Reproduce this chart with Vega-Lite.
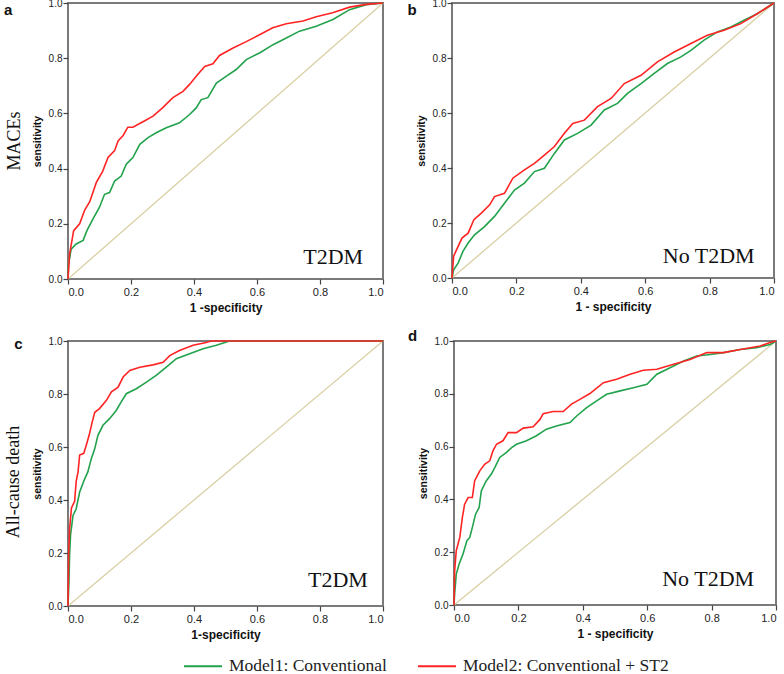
{
  "$schema": "https://vega.github.io/schema/vega-lite/v6.json",
  "padding": {"left": 2, "top": -3, "right": 0, "bottom": 0},
  "background": "white",
  "config": {
    "view": {"stroke": "#7a7a7a", "strokeWidth": 2},
    "axis": {"grid": false, "domain": false, "tickColor": "#444", "tickSize": 5, "tickWidth": 1.2, "labelFont": "Liberation Sans", "labelColor": "#222", "titleFont": "Liberation Sans", "titleFontWeight": "bold", "titleColor": "#111", "format": ".1f", "tickCount": 5},
    "axisX": {"labelFontSize": 11, "labelPadding": 2, "titleFontSize": 12, "titlePadding": 5},
    "axisY": {"labelFontSize": 10, "labelPadding": 1, "titleFontSize": 10.5, "titlePadding": 6},
    "legend": {"orient": "none", "legendX": 115, "legendY": 643, "direction": "horizontal", "symbolType": "stroke", "symbolSize": 1444, "symbolStrokeWidth": 2, "labelFont": "Liberation Serif", "labelFontSize": 17.5, "labelColor": "#222", "labelOffset": 6, "columnPadding": 27, "labelLimit": 400}
  },
  "datasets": {
    "a": [
      {"m": "Model1: Conventional", "x": 0, "y": 0}, {"m": "Model1: Conventional", "x": 0.002, "y": 0.054}, {"m": "Model1: Conventional", "x": 0.01, "y": 0.108}, {"m": "Model1: Conventional", "x": 0.026, "y": 0.127}, {"m": "Model1: Conventional", "x": 0.048, "y": 0.14}, {"m": "Model1: Conventional", "x": 0.06, "y": 0.175}, {"m": "Model1: Conventional", "x": 0.079, "y": 0.217}, {"m": "Model1: Conventional", "x": 0.1, "y": 0.26}, {"m": "Model1: Conventional", "x": 0.116, "y": 0.307}, {"m": "Model1: Conventional", "x": 0.132, "y": 0.313}, {"m": "Model1: Conventional", "x": 0.148, "y": 0.355}, {"m": "Model1: Conventional", "x": 0.169, "y": 0.373}, {"m": "Model1: Conventional", "x": 0.185, "y": 0.416}, {"m": "Model1: Conventional", "x": 0.206, "y": 0.44}, {"m": "Model1: Conventional", "x": 0.228, "y": 0.488}, {"m": "Model1: Conventional", "x": 0.254, "y": 0.512}, {"m": "Model1: Conventional", "x": 0.28, "y": 0.53}, {"m": "Model1: Conventional", "x": 0.312, "y": 0.548}, {"m": "Model1: Conventional", "x": 0.354, "y": 0.566}, {"m": "Model1: Conventional", "x": 0.386, "y": 0.596}, {"m": "Model1: Conventional", "x": 0.407, "y": 0.62}, {"m": "Model1: Conventional", "x": 0.423, "y": 0.65}, {"m": "Model1: Conventional", "x": 0.444, "y": 0.657}, {"m": "Model1: Conventional", "x": 0.471, "y": 0.71}, {"m": "Model1: Conventional", "x": 0.503, "y": 0.735}, {"m": "Model1: Conventional", "x": 0.534, "y": 0.759}, {"m": "Model1: Conventional", "x": 0.566, "y": 0.795}, {"m": "Model1: Conventional", "x": 0.608, "y": 0.819}, {"m": "Model1: Conventional", "x": 0.651, "y": 0.849}, {"m": "Model1: Conventional", "x": 0.693, "y": 0.873}, {"m": "Model1: Conventional", "x": 0.735, "y": 0.898}, {"m": "Model1: Conventional", "x": 0.788, "y": 0.916}, {"m": "Model1: Conventional", "x": 0.841, "y": 0.94}, {"m": "Model1: Conventional", "x": 0.894, "y": 0.976}, {"m": "Model1: Conventional", "x": 0.947, "y": 0.994}, {"m": "Model1: Conventional", "x": 1, "y": 1},
      {"m": "Model2: Conventional + ST2", "x": 0, "y": 0}, {"m": "Model2: Conventional + ST2", "x": 0.005, "y": 0.09}, {"m": "Model2: Conventional + ST2", "x": 0.018, "y": 0.175}, {"m": "Model2: Conventional + ST2", "x": 0.037, "y": 0.2}, {"m": "Model2: Conventional + ST2", "x": 0.053, "y": 0.25}, {"m": "Model2: Conventional + ST2", "x": 0.069, "y": 0.28}, {"m": "Model2: Conventional + ST2", "x": 0.09, "y": 0.35}, {"m": "Model2: Conventional + ST2", "x": 0.11, "y": 0.39}, {"m": "Model2: Conventional + ST2", "x": 0.127, "y": 0.44}, {"m": "Model2: Conventional + ST2", "x": 0.148, "y": 0.465}, {"m": "Model2: Conventional + ST2", "x": 0.159, "y": 0.5}, {"m": "Model2: Conventional + ST2", "x": 0.175, "y": 0.52}, {"m": "Model2: Conventional + ST2", "x": 0.19, "y": 0.55}, {"m": "Model2: Conventional + ST2", "x": 0.206, "y": 0.55}, {"m": "Model2: Conventional + ST2", "x": 0.238, "y": 0.57}, {"m": "Model2: Conventional + ST2", "x": 0.27, "y": 0.59}, {"m": "Model2: Conventional + ST2", "x": 0.3, "y": 0.62}, {"m": "Model2: Conventional + ST2", "x": 0.333, "y": 0.657}, {"m": "Model2: Conventional + ST2", "x": 0.365, "y": 0.68}, {"m": "Model2: Conventional + ST2", "x": 0.386, "y": 0.705}, {"m": "Model2: Conventional + ST2", "x": 0.407, "y": 0.735}, {"m": "Model2: Conventional + ST2", "x": 0.434, "y": 0.77}, {"m": "Model2: Conventional + ST2", "x": 0.46, "y": 0.78}, {"m": "Model2: Conventional + ST2", "x": 0.481, "y": 0.81}, {"m": "Model2: Conventional + ST2", "x": 0.524, "y": 0.837}, {"m": "Model2: Conventional + ST2", "x": 0.566, "y": 0.86}, {"m": "Model2: Conventional + ST2", "x": 0.608, "y": 0.885}, {"m": "Model2: Conventional + ST2", "x": 0.65, "y": 0.91}, {"m": "Model2: Conventional + ST2", "x": 0.693, "y": 0.925}, {"m": "Model2: Conventional + ST2", "x": 0.746, "y": 0.935}, {"m": "Model2: Conventional + ST2", "x": 0.788, "y": 0.95}, {"m": "Model2: Conventional + ST2", "x": 0.84, "y": 0.965}, {"m": "Model2: Conventional + ST2", "x": 0.894, "y": 0.985}, {"m": "Model2: Conventional + ST2", "x": 0.947, "y": 0.995}, {"m": "Model2: Conventional + ST2", "x": 1, "y": 1}
    ],
    "b": [
      {"m": "Model1: Conventional", "x": 0, "y": 0}, {"m": "Model1: Conventional", "x": 0.005, "y": 0.03}, {"m": "Model1: Conventional", "x": 0.019, "y": 0.054}, {"m": "Model1: Conventional", "x": 0.034, "y": 0.097}, {"m": "Model1: Conventional", "x": 0.05, "y": 0.127}, {"m": "Model1: Conventional", "x": 0.07, "y": 0.157}, {"m": "Model1: Conventional", "x": 0.101, "y": 0.187}, {"m": "Model1: Conventional", "x": 0.132, "y": 0.224}, {"m": "Model1: Conventional", "x": 0.163, "y": 0.272}, {"m": "Model1: Conventional", "x": 0.194, "y": 0.32}, {"m": "Model1: Conventional", "x": 0.225, "y": 0.345}, {"m": "Model1: Conventional", "x": 0.256, "y": 0.387}, {"m": "Model1: Conventional", "x": 0.287, "y": 0.399}, {"m": "Model1: Conventional", "x": 0.318, "y": 0.453}, {"m": "Model1: Conventional", "x": 0.349, "y": 0.502}, {"m": "Model1: Conventional", "x": 0.39, "y": 0.526}, {"m": "Model1: Conventional", "x": 0.432, "y": 0.556}, {"m": "Model1: Conventional", "x": 0.473, "y": 0.611}, {"m": "Model1: Conventional", "x": 0.514, "y": 0.635}, {"m": "Model1: Conventional", "x": 0.545, "y": 0.671}, {"m": "Model1: Conventional", "x": 0.587, "y": 0.707}, {"m": "Model1: Conventional", "x": 0.628, "y": 0.744}, {"m": "Model1: Conventional", "x": 0.669, "y": 0.78}, {"m": "Model1: Conventional", "x": 0.711, "y": 0.804}, {"m": "Model1: Conventional", "x": 0.742, "y": 0.828}, {"m": "Model1: Conventional", "x": 0.783, "y": 0.865}, {"m": "Model1: Conventional", "x": 0.824, "y": 0.895}, {"m": "Model1: Conventional", "x": 0.866, "y": 0.913}, {"m": "Model1: Conventional", "x": 0.907, "y": 0.937}, {"m": "Model1: Conventional", "x": 0.948, "y": 0.961}, {"m": "Model1: Conventional", "x": 1, "y": 1},
      {"m": "Model2: Conventional + ST2", "x": 0, "y": 0}, {"m": "Model2: Conventional + ST2", "x": 0.005, "y": 0.079}, {"m": "Model2: Conventional + ST2", "x": 0.019, "y": 0.115}, {"m": "Model2: Conventional + ST2", "x": 0.031, "y": 0.145}, {"m": "Model2: Conventional + ST2", "x": 0.05, "y": 0.163}, {"m": "Model2: Conventional + ST2", "x": 0.068, "y": 0.212}, {"m": "Model2: Conventional + ST2", "x": 0.091, "y": 0.236}, {"m": "Model2: Conventional + ST2", "x": 0.117, "y": 0.266}, {"m": "Model2: Conventional + ST2", "x": 0.132, "y": 0.296}, {"m": "Model2: Conventional + ST2", "x": 0.163, "y": 0.308}, {"m": "Model2: Conventional + ST2", "x": 0.189, "y": 0.363}, {"m": "Model2: Conventional + ST2", "x": 0.225, "y": 0.393}, {"m": "Model2: Conventional + ST2", "x": 0.256, "y": 0.417}, {"m": "Model2: Conventional + ST2", "x": 0.287, "y": 0.447}, {"m": "Model2: Conventional + ST2", "x": 0.318, "y": 0.478}, {"m": "Model2: Conventional + ST2", "x": 0.349, "y": 0.526}, {"m": "Model2: Conventional + ST2", "x": 0.375, "y": 0.562}, {"m": "Model2: Conventional + ST2", "x": 0.411, "y": 0.574}, {"m": "Model2: Conventional + ST2", "x": 0.452, "y": 0.623}, {"m": "Model2: Conventional + ST2", "x": 0.494, "y": 0.653}, {"m": "Model2: Conventional + ST2", "x": 0.535, "y": 0.707}, {"m": "Model2: Conventional + ST2", "x": 0.587, "y": 0.737}, {"m": "Model2: Conventional + ST2", "x": 0.638, "y": 0.786}, {"m": "Model2: Conventional + ST2", "x": 0.69, "y": 0.822}, {"m": "Model2: Conventional + ST2", "x": 0.742, "y": 0.853}, {"m": "Model2: Conventional + ST2", "x": 0.793, "y": 0.883}, {"m": "Model2: Conventional + ST2", "x": 0.845, "y": 0.901}, {"m": "Model2: Conventional + ST2", "x": 0.897, "y": 0.925}, {"m": "Model2: Conventional + ST2", "x": 0.948, "y": 0.961}, {"m": "Model2: Conventional + ST2", "x": 1, "y": 1}
    ],
    "c": [
      {"m": "Model1: Conventional", "x": 0, "y": 0}, {"m": "Model1: Conventional", "x": 0.003, "y": 0.09}, {"m": "Model1: Conventional", "x": 0.005, "y": 0.19}, {"m": "Model1: Conventional", "x": 0.008, "y": 0.267}, {"m": "Model1: Conventional", "x": 0.016, "y": 0.342}, {"m": "Model1: Conventional", "x": 0.026, "y": 0.367}, {"m": "Model1: Conventional", "x": 0.037, "y": 0.43}, {"m": "Model1: Conventional", "x": 0.053, "y": 0.48}, {"m": "Model1: Conventional", "x": 0.063, "y": 0.506}, {"m": "Model1: Conventional", "x": 0.074, "y": 0.556}, {"m": "Model1: Conventional", "x": 0.085, "y": 0.594}, {"m": "Model1: Conventional", "x": 0.095, "y": 0.644}, {"m": "Model1: Conventional", "x": 0.111, "y": 0.682}, {"m": "Model1: Conventional", "x": 0.132, "y": 0.707}, {"m": "Model1: Conventional", "x": 0.153, "y": 0.738}, {"m": "Model1: Conventional", "x": 0.169, "y": 0.77}, {"m": "Model1: Conventional", "x": 0.185, "y": 0.801}, {"m": "Model1: Conventional", "x": 0.217, "y": 0.82}, {"m": "Model1: Conventional", "x": 0.249, "y": 0.845}, {"m": "Model1: Conventional", "x": 0.28, "y": 0.87}, {"m": "Model1: Conventional", "x": 0.312, "y": 0.901}, {"m": "Model1: Conventional", "x": 0.344, "y": 0.933}, {"m": "Model1: Conventional", "x": 0.386, "y": 0.952}, {"m": "Model1: Conventional", "x": 0.429, "y": 0.971}, {"m": "Model1: Conventional", "x": 0.471, "y": 0.984}, {"m": "Model1: Conventional", "x": 0.513, "y": 1}, {"m": "Model1: Conventional", "x": 1, "y": 1},
      {"m": "Model2: Conventional + ST2", "x": 0, "y": 0}, {"m": "Model2: Conventional + ST2", "x": 0.002, "y": 0.19}, {"m": "Model2: Conventional + ST2", "x": 0.005, "y": 0.29}, {"m": "Model2: Conventional + ST2", "x": 0.011, "y": 0.37}, {"m": "Model2: Conventional + ST2", "x": 0.021, "y": 0.395}, {"m": "Model2: Conventional + ST2", "x": 0.026, "y": 0.47}, {"m": "Model2: Conventional + ST2", "x": 0.032, "y": 0.507}, {"m": "Model2: Conventional + ST2", "x": 0.037, "y": 0.57}, {"m": "Model2: Conventional + ST2", "x": 0.05, "y": 0.576}, {"m": "Model2: Conventional + ST2", "x": 0.058, "y": 0.607}, {"m": "Model2: Conventional + ST2", "x": 0.067, "y": 0.644}, {"m": "Model2: Conventional + ST2", "x": 0.077, "y": 0.695}, {"m": "Model2: Conventional + ST2", "x": 0.085, "y": 0.731}, {"m": "Model2: Conventional + ST2", "x": 0.1, "y": 0.745}, {"m": "Model2: Conventional + ST2", "x": 0.122, "y": 0.776}, {"m": "Model2: Conventional + ST2", "x": 0.138, "y": 0.808}, {"m": "Model2: Conventional + ST2", "x": 0.159, "y": 0.826}, {"m": "Model2: Conventional + ST2", "x": 0.175, "y": 0.864}, {"m": "Model2: Conventional + ST2", "x": 0.196, "y": 0.889}, {"m": "Model2: Conventional + ST2", "x": 0.228, "y": 0.901}, {"m": "Model2: Conventional + ST2", "x": 0.27, "y": 0.91}, {"m": "Model2: Conventional + ST2", "x": 0.302, "y": 0.92}, {"m": "Model2: Conventional + ST2", "x": 0.323, "y": 0.945}, {"m": "Model2: Conventional + ST2", "x": 0.354, "y": 0.964}, {"m": "Model2: Conventional + ST2", "x": 0.397, "y": 0.984}, {"m": "Model2: Conventional + ST2", "x": 0.439, "y": 0.994}, {"m": "Model2: Conventional + ST2", "x": 0.455, "y": 1}, {"m": "Model2: Conventional + ST2", "x": 1, "y": 1}
    ],
    "d": [
      {"m": "Model1: Conventional", "x": 0, "y": 0}, {"m": "Model1: Conventional", "x": 0.002, "y": 0.042}, {"m": "Model1: Conventional", "x": 0.007, "y": 0.117}, {"m": "Model1: Conventional", "x": 0.016, "y": 0.155}, {"m": "Model1: Conventional", "x": 0.028, "y": 0.193}, {"m": "Model1: Conventional", "x": 0.04, "y": 0.243}, {"m": "Model1: Conventional", "x": 0.049, "y": 0.256}, {"m": "Model1: Conventional", "x": 0.057, "y": 0.294}, {"m": "Model1: Conventional", "x": 0.067, "y": 0.344}, {"m": "Model1: Conventional", "x": 0.078, "y": 0.369}, {"m": "Model1: Conventional", "x": 0.085, "y": 0.433}, {"m": "Model1: Conventional", "x": 0.1, "y": 0.47}, {"m": "Model1: Conventional", "x": 0.116, "y": 0.496}, {"m": "Model1: Conventional", "x": 0.127, "y": 0.521}, {"m": "Model1: Conventional", "x": 0.142, "y": 0.559}, {"m": "Model1: Conventional", "x": 0.163, "y": 0.578}, {"m": "Model1: Conventional", "x": 0.179, "y": 0.596}, {"m": "Model1: Conventional", "x": 0.194, "y": 0.609}, {"m": "Model1: Conventional", "x": 0.225, "y": 0.622}, {"m": "Model1: Conventional", "x": 0.256, "y": 0.641}, {"m": "Model1: Conventional", "x": 0.287, "y": 0.666}, {"m": "Model1: Conventional", "x": 0.318, "y": 0.678}, {"m": "Model1: Conventional", "x": 0.36, "y": 0.691}, {"m": "Model1: Conventional", "x": 0.381, "y": 0.716}, {"m": "Model1: Conventional", "x": 0.412, "y": 0.748}, {"m": "Model1: Conventional", "x": 0.443, "y": 0.773}, {"m": "Model1: Conventional", "x": 0.474, "y": 0.798}, {"m": "Model1: Conventional", "x": 0.516, "y": 0.811}, {"m": "Model1: Conventional", "x": 0.557, "y": 0.823}, {"m": "Model1: Conventional", "x": 0.599, "y": 0.836}, {"m": "Model1: Conventional", "x": 0.63, "y": 0.874}, {"m": "Model1: Conventional", "x": 0.671, "y": 0.899}, {"m": "Model1: Conventional", "x": 0.713, "y": 0.924}, {"m": "Model1: Conventional", "x": 0.754, "y": 0.943}, {"m": "Model1: Conventional", "x": 0.796, "y": 0.949}, {"m": "Model1: Conventional", "x": 0.837, "y": 0.956}, {"m": "Model1: Conventional", "x": 0.889, "y": 0.968}, {"m": "Model1: Conventional", "x": 0.94, "y": 0.975}, {"m": "Model1: Conventional", "x": 0.982, "y": 0.987}, {"m": "Model1: Conventional", "x": 1, "y": 1},
      {"m": "Model2: Conventional + ST2", "x": 0, "y": 0}, {"m": "Model2: Conventional + ST2", "x": 0.002, "y": 0.13}, {"m": "Model2: Conventional + ST2", "x": 0.007, "y": 0.206}, {"m": "Model2: Conventional + ST2", "x": 0.018, "y": 0.256}, {"m": "Model2: Conventional + ST2", "x": 0.026, "y": 0.332}, {"m": "Model2: Conventional + ST2", "x": 0.033, "y": 0.382}, {"m": "Model2: Conventional + ST2", "x": 0.044, "y": 0.407}, {"m": "Model2: Conventional + ST2", "x": 0.057, "y": 0.407}, {"m": "Model2: Conventional + ST2", "x": 0.064, "y": 0.47}, {"m": "Model2: Conventional + ST2", "x": 0.08, "y": 0.508}, {"m": "Model2: Conventional + ST2", "x": 0.095, "y": 0.533}, {"m": "Model2: Conventional + ST2", "x": 0.111, "y": 0.546}, {"m": "Model2: Conventional + ST2", "x": 0.121, "y": 0.584}, {"m": "Model2: Conventional + ST2", "x": 0.132, "y": 0.609}, {"m": "Model2: Conventional + ST2", "x": 0.152, "y": 0.622}, {"m": "Model2: Conventional + ST2", "x": 0.168, "y": 0.653}, {"m": "Model2: Conventional + ST2", "x": 0.194, "y": 0.653}, {"m": "Model2: Conventional + ST2", "x": 0.215, "y": 0.67}, {"m": "Model2: Conventional + ST2", "x": 0.246, "y": 0.675}, {"m": "Model2: Conventional + ST2", "x": 0.267, "y": 0.703}, {"m": "Model2: Conventional + ST2", "x": 0.277, "y": 0.725}, {"m": "Model2: Conventional + ST2", "x": 0.308, "y": 0.733}, {"m": "Model2: Conventional + ST2", "x": 0.339, "y": 0.733}, {"m": "Model2: Conventional + ST2", "x": 0.365, "y": 0.761}, {"m": "Model2: Conventional + ST2", "x": 0.391, "y": 0.779}, {"m": "Model2: Conventional + ST2", "x": 0.422, "y": 0.801}, {"m": "Model2: Conventional + ST2", "x": 0.464, "y": 0.842}, {"m": "Model2: Conventional + ST2", "x": 0.505, "y": 0.855}, {"m": "Model2: Conventional + ST2", "x": 0.547, "y": 0.874}, {"m": "Model2: Conventional + ST2", "x": 0.588, "y": 0.889}, {"m": "Model2: Conventional + ST2", "x": 0.63, "y": 0.893}, {"m": "Model2: Conventional + ST2", "x": 0.682, "y": 0.912}, {"m": "Model2: Conventional + ST2", "x": 0.733, "y": 0.93}, {"m": "Model2: Conventional + ST2", "x": 0.785, "y": 0.956}, {"m": "Model2: Conventional + ST2", "x": 0.837, "y": 0.956}, {"m": "Model2: Conventional + ST2", "x": 0.889, "y": 0.968}, {"m": "Model2: Conventional + ST2", "x": 0.951, "y": 0.981}, {"m": "Model2: Conventional + ST2", "x": 0.982, "y": 0.994}, {"m": "Model2: Conventional + ST2", "x": 1, "y": 1}
    ]
  },
  "spacing": 13,
  "vconcat": [
    {
      "spacing": 18,
      "hconcat": [
        {
          "width": 315, "height": 276,
          "layer": [
            {"data": {"values": [{"x": 0, "y": 0}, {"x": 1, "y": 1}]}, "mark": {"type": "line", "color": "#d8d0a4", "strokeWidth": 1.3},
             "encoding": {"x": {"field": "x", "type": "quantitative", "scale": {"domain": [0, 1], "nice": false}, "axis": {"title": "1 -specificity"}}, "y": {"field": "y", "type": "quantitative", "scale": {"domain": [0, 1], "nice": false}, "axis": {"title": "sensitivity"}}}},
            {"data": {"name": "a"}, "mark": {"type": "line", "strokeWidth": 1.6},
             "encoding": {"x": {"field": "x", "type": "quantitative"}, "y": {"field": "y", "type": "quantitative"}, "color": {"field": "m", "type": "nominal", "scale": {"domain": ["Model1: Conventional", "Model2: Conventional + ST2"], "range": ["#22a24c", "#ff2424"]}, "legend": {"title": null}}}},
            {"data": {"values": [{"t": "T2DM"}]}, "mark": {"type": "text", "font": "Liberation Serif", "fontSize": 22, "align": "right", "baseline": "alphabetic", "color": "#111"},
             "encoding": {"x": {"datum": 0.937}, "y": {"datum": 0.054}, "text": {"field": "t"}}},
            {"data": {"values": [{"t": "a"}]}, "mark": {"type": "text", "font": "Liberation Sans", "fontSize": 15, "fontWeight": "bold", "align": "center", "baseline": "middle", "color": "#111"},
             "encoding": {"x": {"datum": -0.19}, "y": {"datum": 0.975}, "text": {"field": "t"}}},
            {"data": {"values": [{"t": "MACEs"}]}, "mark": {"type": "text", "font": "Liberation Serif", "fontSize": 18, "angle": 270, "align": "center", "baseline": "middle", "color": "#111"},
             "encoding": {"x": {"datum": -0.168}, "y": {"datum": 0.5}, "text": {"field": "t"}}}
          ]
        },
        {
          "width": 322, "height": 275,
          "layer": [
            {"data": {"values": [{"x": 0, "y": 0}, {"x": 1, "y": 1}]}, "mark": {"type": "line", "color": "#d8d0a4", "strokeWidth": 1.3},
             "encoding": {"x": {"field": "x", "type": "quantitative", "scale": {"domain": [0, 1], "nice": false}, "axis": {"title": "1 - specificity"}}, "y": {"field": "y", "type": "quantitative", "scale": {"domain": [0, 1], "nice": false}, "axis": {"title": "sensitivity"}}}},
            {"data": {"name": "b"}, "mark": {"type": "line", "strokeWidth": 1.6},
             "encoding": {"x": {"field": "x", "type": "quantitative"}, "y": {"field": "y", "type": "quantitative"}, "color": {"field": "m", "type": "nominal", "scale": {"domain": ["Model1: Conventional", "Model2: Conventional + ST2"], "range": ["#22a24c", "#ff2424"]}, "legend": {"title": null}}}},
            {"data": {"values": [{"t": "No T2DM"}]}, "mark": {"type": "text", "font": "Liberation Serif", "fontSize": 22, "align": "right", "baseline": "alphabetic", "color": "#111"},
             "encoding": {"x": {"datum": 0.94}, "y": {"datum": 0.055}, "text": {"field": "t"}}},
            {"data": {"values": [{"t": "b"}]}, "mark": {"type": "text", "font": "Liberation Sans", "fontSize": 15, "fontWeight": "bold", "align": "center", "baseline": "middle", "color": "#111"},
             "encoding": {"x": {"datum": -0.124}, "y": {"datum": 0.975}, "text": {"field": "t"}}}
          ]
        }
      ]
    },
    {
      "spacing": 18,
      "hconcat": [
        {
          "width": 315, "height": 265,
          "layer": [
            {"data": {"values": [{"x": 0, "y": 0}, {"x": 1, "y": 1}]}, "mark": {"type": "line", "color": "#d8d0a4", "strokeWidth": 1.3},
             "encoding": {"x": {"field": "x", "type": "quantitative", "scale": {"domain": [0, 1], "nice": false}, "axis": {"title": "1-specificity"}}, "y": {"field": "y", "type": "quantitative", "scale": {"domain": [0, 1], "nice": false}, "axis": {"title": "sensitivity"}}}},
            {"data": {"name": "c"}, "mark": {"type": "line", "strokeWidth": 1.6},
             "encoding": {"x": {"field": "x", "type": "quantitative"}, "y": {"field": "y", "type": "quantitative"}, "color": {"field": "m", "type": "nominal", "scale": {"domain": ["Model1: Conventional", "Model2: Conventional + ST2"], "range": ["#22a24c", "#ff2424"]}, "legend": {"title": null}}}},
            {"data": {"values": [{"t": "T2DM"}]}, "mark": {"type": "text", "font": "Liberation Serif", "fontSize": 22, "align": "right", "baseline": "alphabetic", "color": "#111"},
             "encoding": {"x": {"datum": 0.952}, "y": {"datum": 0.072}, "text": {"field": "t"}}},
            {"data": {"values": [{"t": "c"}]}, "mark": {"type": "text", "font": "Liberation Sans", "fontSize": 15, "fontWeight": "bold", "align": "center", "baseline": "middle", "color": "#111"},
             "encoding": {"x": {"datum": -0.157}, "y": {"datum": 0.989}, "text": {"field": "t"}}},
            {"data": {"values": [{"t": "All-cause death"}]}, "mark": {"type": "text", "font": "Liberation Serif", "fontSize": 18, "angle": 270, "align": "center", "baseline": "middle", "color": "#111"},
             "encoding": {"x": {"datum": -0.171}, "y": {"datum": 0.468}, "text": {"field": "t"}}}
          ]
        },
        {
          "width": 322, "height": 264,
          "layer": [
            {"data": {"values": [{"x": 0, "y": 0}, {"x": 1, "y": 1}]}, "mark": {"type": "line", "color": "#d8d0a4", "strokeWidth": 1.3},
             "encoding": {"x": {"field": "x", "type": "quantitative", "scale": {"domain": [0, 1], "nice": false}, "axis": {"title": "1 - specificity"}}, "y": {"field": "y", "type": "quantitative", "scale": {"domain": [0, 1], "nice": false}, "axis": {"title": "sensitivity"}}}},
            {"data": {"name": "d"}, "mark": {"type": "line", "strokeWidth": 1.6},
             "encoding": {"x": {"field": "x", "type": "quantitative"}, "y": {"field": "y", "type": "quantitative"}, "color": {"field": "m", "type": "nominal", "scale": {"domain": ["Model1: Conventional", "Model2: Conventional + ST2"], "range": ["#22a24c", "#ff2424"]}, "legend": {"title": null}}}},
            {"data": {"values": [{"t": "No T2DM"}]}, "mark": {"type": "text", "font": "Liberation Serif", "fontSize": 22, "align": "right", "baseline": "alphabetic", "color": "#111"},
             "encoding": {"x": {"datum": 0.932}, "y": {"datum": 0.072}, "text": {"field": "t"}}},
            {"data": {"values": [{"t": "d"}]}, "mark": {"type": "text", "font": "Liberation Sans", "fontSize": 15, "fontWeight": "bold", "align": "center", "baseline": "middle", "color": "#111"},
             "encoding": {"x": {"datum": -0.129}, "y": {"datum": 1.019}, "text": {"field": "t"}}}
          ]
        }
      ]
    }
  ]
}
